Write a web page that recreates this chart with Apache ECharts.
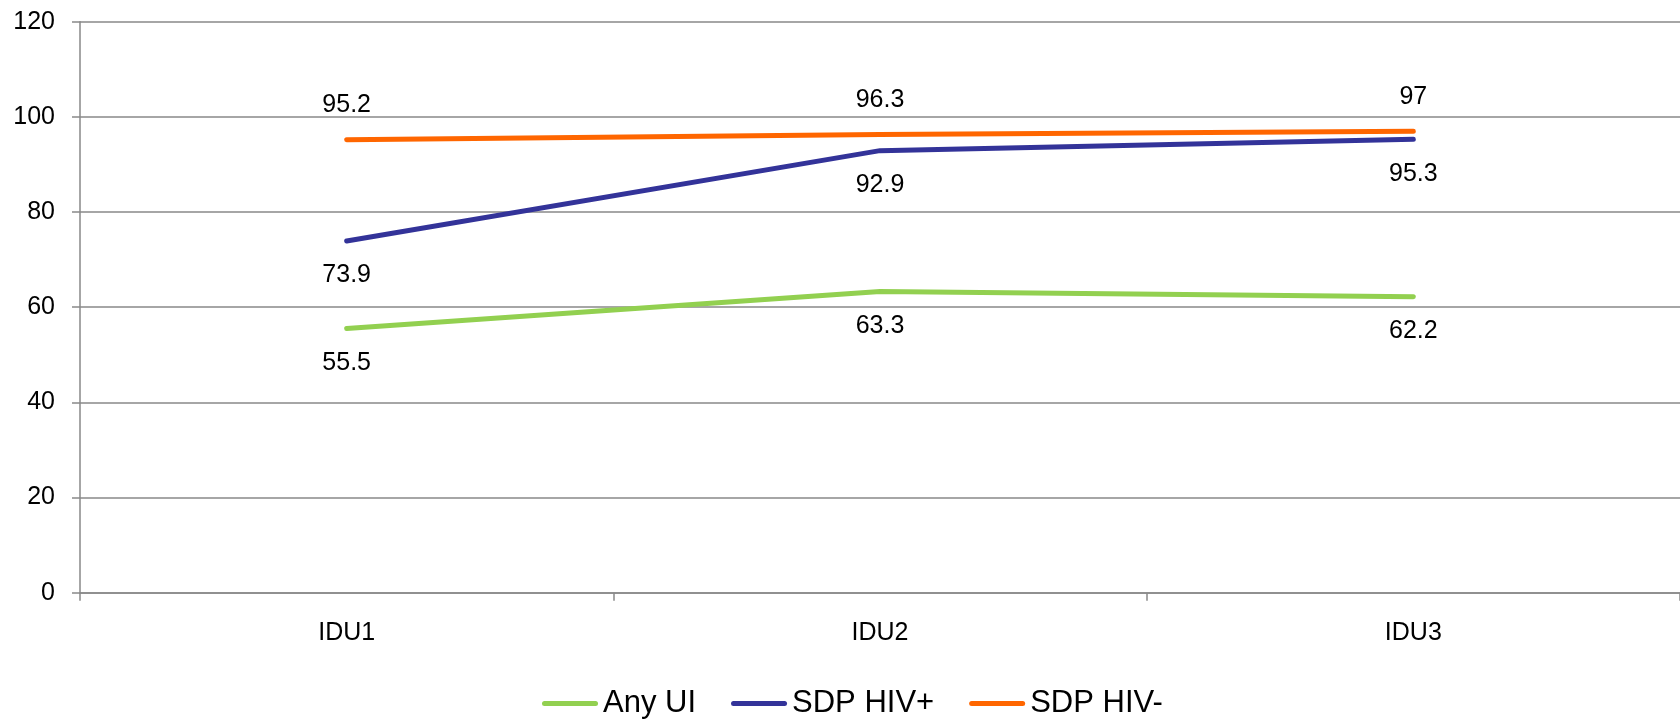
<!DOCTYPE html>
<html>
<head>
<meta charset="utf-8">
<style>
  html, body { margin: 0; padding: 0; background: #ffffff; }
  #chart { width: 1680px; height: 721px; }
</style>
<script src="https://cdn.jsdelivr.net/npm/echarts@6/dist/echarts.min.js"></script>
</head>
<body>
<div id="chart"></div>
<script>
// Categories and series values
const categories = ['IDU1', 'IDU2', 'IDU3'];
const anyUI = [55.5, 63.3, 62.2];
const sdpHivPos = [73.9, 92.9, 95.3];
const sdpHivNeg = [95.2, 96.3, 97];
const seriesNames = ['Any UI', 'SDP HIV+', 'SDP HIV-'];
const yTicks = { min: 0, max: 120, interval: 20 };

const FONT = '"Liberation Sans", Arial, sans-serif';
const GRID_COLOR = '#898989';

function lineSeries(name, data, color, labelPos) {
  return {
    name: name,
    type: 'line',
    data: data,
    // tiny markers hidden under the 5px line; they carry the value labels
    symbol: 'circle',
    symbolSize: 2,
    showSymbol: true,
    lineStyle: { color: color, width: 5, cap: 'round', join: 'round' },
    itemStyle: { color: color },
    label: {
      show: true,
      position: labelPos,
      distance: 21,
      color: '#000000',
      fontFamily: FONT,
      fontSize: 25
    },
    emphasis: { disabled: true },
    z: 3
  };
}

const legendIcon = 'path://M2.5,0 H53.5 A2.5,2.5 0 0 1 53.5,5 H2.5 A2.5,2.5 0 0 1 2.5,0 Z';

const chart = echarts.init(document.getElementById('chart'), null, { renderer: 'canvas' });
chart.setOption({
  animation: false,
  backgroundColor: '#ffffff',
  grid: { left: 80, right: -8, top: 21.7, bottom: 128.3, containLabel: false },
  legend: {
    left: 542,
    top: 688,
    padding: 0,
    itemWidth: 56,
    itemHeight: 5,
    itemGap: 35,
    icon: legendIcon,
    textStyle: { color: '#000000', fontFamily: FONT, fontSize: 31, padding: [0, 0, 0, 0] },
    data: seriesNames
  },
  xAxis: {
    type: 'category',
    data: categories,
    boundaryGap: true,
    axisLine: { show: true, lineStyle: { color: GRID_COLOR, width: 1.5 } },
    axisTick: { show: true, length: 8, alignWithLabel: false, lineStyle: { color: GRID_COLOR, width: 1.5 } },
    axisLabel: { color: '#000000', fontFamily: FONT, fontSize: 25, margin: 28 },
    splitLine: { show: false }
  },
  yAxis: {
    type: 'value',
    min: yTicks.min,
    max: yTicks.max,
    interval: yTicks.interval,
    axisLine: { show: true, lineStyle: { color: GRID_COLOR, width: 1.5 } },
    axisTick: { show: true, length: 8, lineStyle: { color: GRID_COLOR, width: 1.5 } },
    axisLabel: { color: '#000000', fontFamily: FONT, fontSize: 25, margin: 25 },
    splitLine: { show: true, lineStyle: { color: GRID_COLOR, width: 1.5 } }
  },
  series: [
    lineSeries(seriesNames[0], anyUI, '#92D050', 'bottom'),
    lineSeries(seriesNames[1], sdpHivPos, '#333399', 'bottom'),
    lineSeries(seriesNames[2], sdpHivNeg, '#FF6600', 'top')
  ]
});
</script>
</body>
</html>
